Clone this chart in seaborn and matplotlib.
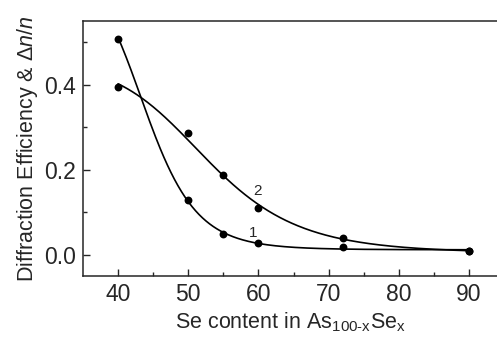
import numpy as np
import pandas as pd
import matplotlib
matplotlib.use("Agg")
import matplotlib.pyplot as plt
import seaborn as sns

# Data
se_content = [40, 50, 55, 60, 72, 90]
curve1 = [0.507, 0.129, 0.050, 0.027, 0.018, 0.009]
curve2 = [0.395, 0.286, 0.188, 0.109, 0.040, 0.009]

sns.set_style("ticks")
plt.rcParams['font.family'] = ['Liberation Sans', 'DejaVu Sans']
plt.rcParams['mathtext.fontset'] = 'custom'
plt.rcParams['mathtext.rm'] = 'Liberation Sans'
plt.rcParams['mathtext.it'] = 'Liberation Sans:italic'


# Hill-type fit y = A1*s + A2*(1-s), s = 1/(1+(x/x0)^p)
# grid over x0, p; mild weighting so the small tail values still count
def hill_fit(x, y):
    x = np.asarray(x, float)
    y = np.asarray(y, float)
    w = 1.0 / (y + 0.03)
    best = None
    for x0 in np.linspace(40, 70, 151):
        for p in np.linspace(1, 40, 196):
            s = 1.0 / (1.0 + (x / x0) ** p)
            M = np.column_stack([s, 1 - s])
            coef, *_ = np.linalg.lstsq(M * w[:, None], y * w, rcond=None)
            err = np.sum(((M @ coef - y) * w) ** 2)
            if best is None or err < best[0]:
                best = (err, x0, p, coef)
    _, x0, p, coef = best

    def f(t):
        s = 1.0 / (1.0 + (t / x0) ** p)
        return coef[0] * s + coef[1] * (1 - s)
    return f


xs = np.linspace(40, 90, 300)
fit_rows = []
for name, vals in [("1", curve1), ("2", curve2)]:
    f = hill_fit(se_content, vals)
    fit_rows.append(pd.DataFrame({"x": xs, "y": f(xs), "s": name}))
fits = pd.concat(fit_rows)
pts = pd.concat([
    pd.DataFrame({"x": se_content, "y": curve1, "s": "1"}),
    pd.DataFrame({"x": se_content, "y": curve2, "s": "2"}),
])

fig = plt.figure(figsize=(4.97, 3.45), dpi=100)
ax = fig.add_axes([0.167, 0.2, 0.833, 0.739])

sns.lineplot(data=fits, x="x", y="y", units="s", estimator=None,
             color="black", lw=1.2, ax=ax)
sns.scatterplot(data=pts, x="x", y="y", color="black", s=32,
                edgecolor="black", linewidth=0, ax=ax, zorder=3)

ax.text(59.2, 0.052, "1", fontsize=11, ha="center", va="center")
ax.text(59.8, 0.151, "2", fontsize=11, ha="center", va="center")

ax.set_xlim(35, 94)
ax.set_ylim(-0.05, 0.55)
ax.set_xticks([40, 50, 60, 70, 80, 90])
ax.set_xticks(np.arange(45, 95, 10), minor=True)
ax.set_yticks([0.0, 0.2, 0.4])
ax.set_yticklabels(["0.0", "0.2", "0.4"])
ax.set_yticks([0.1, 0.3, 0.5], minor=True)
ax.tick_params(which="both", direction="in", labelsize=16.5, width=1, top=False, right=False)
ax.tick_params(which="major", length=5, pad=5)
ax.tick_params(which="minor", length=3)
for sp in ax.spines.values():
    sp.set_linewidth(1.1)
ax.spines["right"].set_visible(False)

ax.set_xlabel("Se content in As$_{\\mathrm{100\\text{-}x}}$Se$_{\\mathrm{x}}$", fontsize=15.5, labelpad=3)
ax.set_ylabel("Diffraction Efficiency & $\\mathit{\\Delta n/n}$", fontsize=15.5, labelpad=3)
ax.get_legend() and ax.get_legend().remove()

fig.savefig("out.png", dpi=100)
